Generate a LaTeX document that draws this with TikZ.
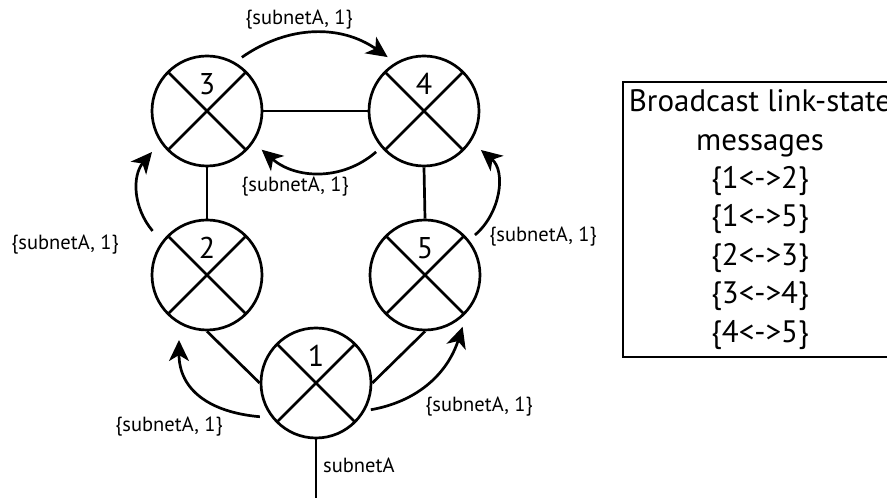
\documentclass[tikz,border=0pt]{standalone}
\usepackage{fontspec}
\setmainfont{PT Sans}
\usetikzlibrary{arrows.meta,calc}
\begin{document}
\begin{tikzpicture}[x=1pt,y=1pt,
  router/.style={circle,draw,line width=2.7pt,minimum size=110pt,inner sep=0pt,
    path picture={\draw[line width=2.7pt]
      (path picture bounding box.north west) -- (path picture bounding box.south east)
      (path picture bounding box.north east) -- (path picture bounding box.south west);}},
  link/.style={line width=2.7pt},
  flow/.style={line width=2.7pt,-{Stealth[length=21pt,width=20pt,inset=6pt]}},
  num/.style={font=\fontsize{30}{36}\selectfont,inner sep=0pt},
  msg/.style={font=\fontsize{20.5}{24}\selectfont,inner sep=0pt},
  listbox/.style={draw,line width=2.7pt,minimum width=274pt,minimum height=275pt,
    align=center,inner sep=0pt,font=\fontsize{31}{38.4}\selectfont}]
\useasboundingbox (0,0) rectangle (887,498);
\clip (0,0) rectangle (887,498);

% routers
\node[router] (n3) at (207,387) {};
\node[router] (n4) at (424,387) {};
\node[router] (n2) at (207,223) {};
\node[router] (n5) at (425,223) {};
\node[router] (n1) at (316,115) {};

% router numbers
\node[num] (d3) at ($(n3)+(0,27)$) {3};
\node[num] (d4) at ($(n4)+(0,27)$) {4};
\node[num] (d2) at ($(n2)+(0,27)$) {2};
\node[num] (d5) at ($(n5)+(0,27)$) {5};
\node[num] (d1) at ($(n1)+(0,27)$) {1};

% links
\draw[link] (n3.east) -- (n4.west);
\draw[link] (n3.south) -- (n2.north);
\draw[link] (n4.south) -- (n5.north);
\draw[link] (n2.south) -- (n1.west);
\draw[link] (n5.south) -- (n1.east);
\coordinate (sub) at (316,0);
\draw[link] (n1.south) -- (sub);
\node[msg,anchor=west] (subl) at (323,33) {subnetA};

% flooded advertisements
\draw[flow] ($(n3)+(57:64)$) to[out=35,in=145] ($(n4)+(124:65)$);
\draw[flow] ($(n4)+(220.5:63)$) to[out=221,in=-41] ($(n3)+(-35.3:67)$);
\draw[flow] ($(n2)+(141:70)$) to[out=130,in=230] ($(n3)+(216.7:68.6)$);
\draw[flow] ($(n5)+(38.7:64)$) to[out=40,in=-40] ($(n4)+(-34.4:69)$);
\draw[flow] ($(n1)+(211:65.5)$) to[out=175,in=-90,looseness=1.15] ($(n2)+(246.7:70.8)$);
\draw[flow] ($(n1)+(-26:61)$) to[out=10,in=-108] ($(n5)+(-54:64)$);

\node[msg] (la) at (299,478) {\{subnetA, 1\}};
\node[msg] (lb) at (295,311) {\{subnetA, 1\}};
\node[msg] (lc) at (65,253) {\{subnetA, 1\}};
\node[msg] (ld) at (543,261) {\{subnetA, 1\}};
\node[msg] (le) at (169,71) {\{subnetA, 1\}};
\node[msg] (lf) at (479,91) {\{subnetA, 1\}};

% message list
\node[listbox] (msgs) at (760,278.5) {Broadcast link-state\\messages\\\{1<->2\}\\\{1<->5\}\\\{2<->3\}\\\{3<->4\}\\\{4<->5\}};
\end{tikzpicture}
\end{document}
